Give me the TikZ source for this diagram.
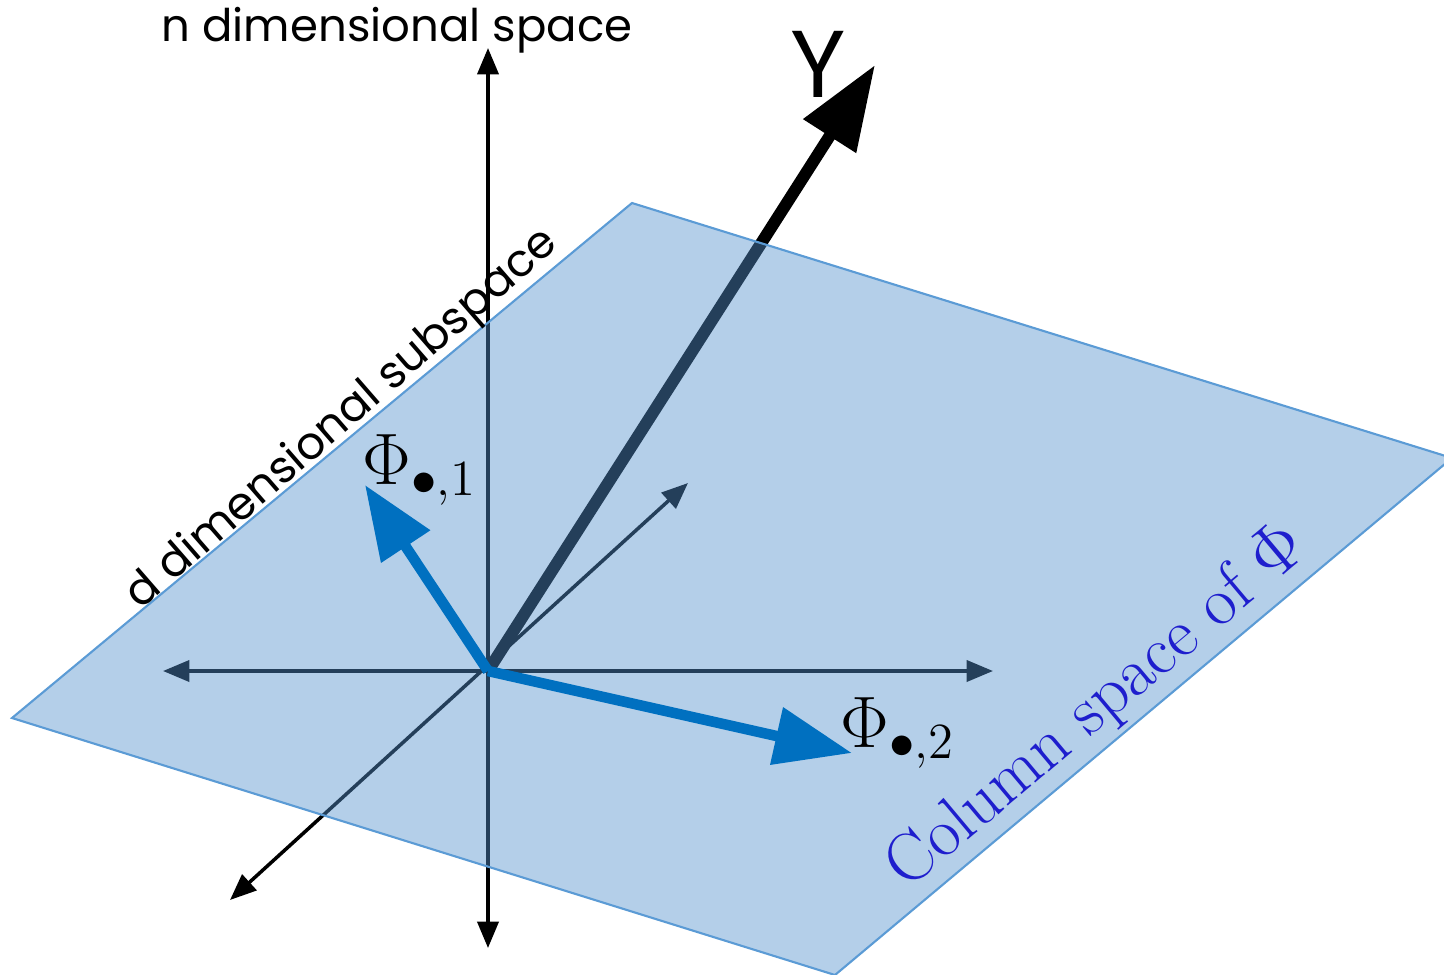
\documentclass[tikz,border=0pt]{standalone}
\usepackage{amsmath,amssymb}
\usepackage{fontspec}
\newfontfamily\gothic{Poppins}
\usepackage{tikz}
\usetikzlibrary{arrows.meta}

\definecolor{planefill}{RGB}{84,145,205}
\definecolor{planeedge}{RGB}{91,155,213}
\definecolor{phiblue}{RGB}{0,112,192}
\definecolor{colblue}{RGB}{30,30,205}

\begin{document}
\begin{tikzpicture}[x=0.01cm, y=-0.01cm, >=Stealth,
  axis/.style={line width=1pt, {Triangle[length=7.5pt,width=6pt]}-{Triangle[length=7.5pt,width=6pt]}},
  bigvec/.style={line width=3pt, -{Triangle[length=21pt,width=16pt]}},
  lbl/.style={font=\gothic\fontsize{12.8}{15}\selectfont, inner sep=0pt}]
\useasboundingbox (0,0) rectangle (1444,975);

% points of the figure
\coordinate (O)     at (488,671);
\coordinate (up)    at (488,48);
\coordinate (down)  at (488,948);
\coordinate (left)  at (163,671);
\coordinate (right) at (993,671);
\coordinate (back)  at (688,483);
\coordinate (front) at (230,900);
\coordinate (ytip)  at (875,65);
\coordinate (p1tip) at (365,485);
\coordinate (p2tip) at (852,753);

% axes and Y below the plane
\draw[axis] (down) -- (up);
\draw[axis] (left) -- (right);
\draw[axis] (front) -- (back);
\draw[line width=3.4pt, -{Triangle[length=24pt,width=17pt]}] (O) -- (ytip);

% the subspace
\fill[planefill, opacity=0.44] (12,718) -- (632,203) -- (1452,458) -- (835,975) -- cycle;
\draw[planeedge, line width=0.6pt] (12,718) -- (632,203) -- (1452,458) -- (835,975) -- cycle;

\draw[bigvec, phiblue] (O) -- (p1tip);
\draw[bigvec, phiblue, -{Triangle[length=22pt,width=16pt]}] (O) -- (p2tip);

\node[lbl] (nspace) at (397,30) {n dimensional space};
\node[lbl, rotate=41] (dspace) at (343,420) {d dimensional subspace};
\node[font=\gothic\fontsize{27}{30}\selectfont, inner sep=0pt] (Y) at (818,64) {Y};
\node[font=\fontsize{19.5}{22}\selectfont, inner sep=0pt] (phi1) at (420,470) {$\Phi_{\bullet,1}$};
\node[font=\fontsize{19.5}{22}\selectfont, inner sep=0pt] (phi2) at (898,733) {$\Phi_{\bullet,2}$};
\node[font=\fontsize{19.5}{22}\selectfont, text=colblue, rotate=40, inner sep=0pt] (colsp) at (1097,708) {Column space of $\Phi$};
\end{tikzpicture}
\end{document}
